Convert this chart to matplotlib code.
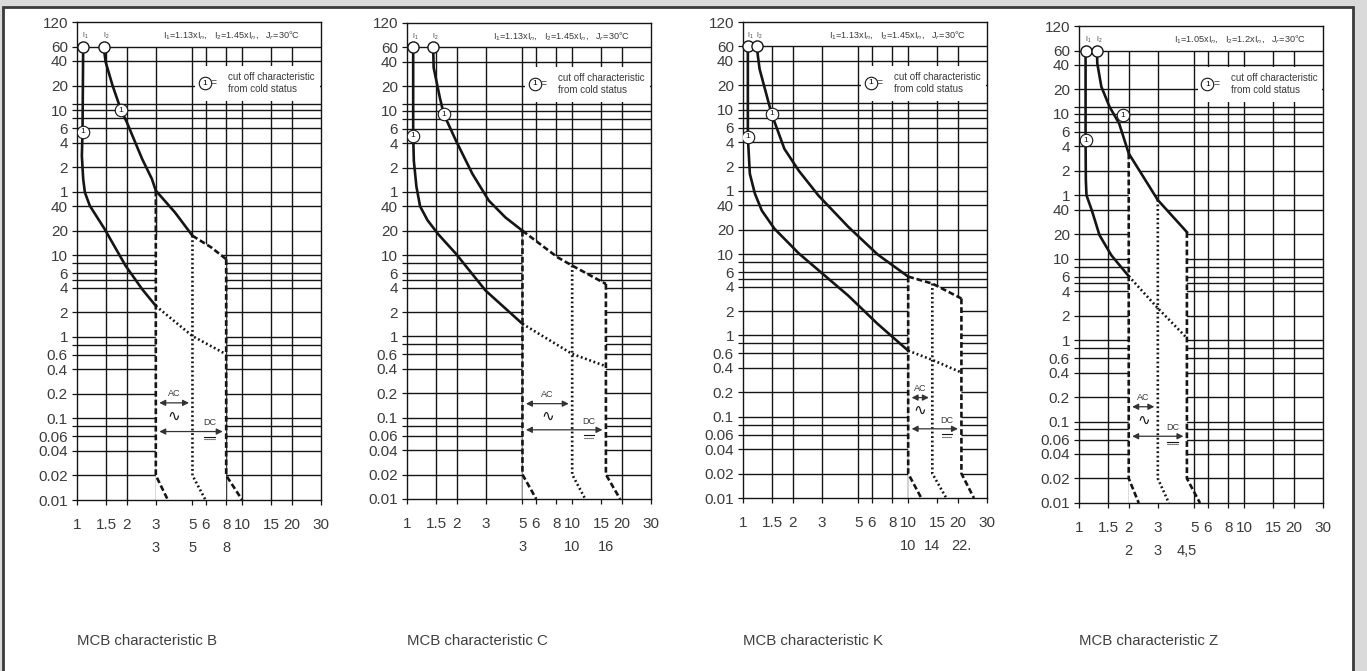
import matplotlib
matplotlib.use('Agg')
import matplotlib.pyplot as plt
from matplotlib.patches import Rectangle

plt.rcParams['font.family'] = ['Liberation Sans', 'DejaVu Sans']
plt.rcParams['mathtext.fontset'] = 'custom'
plt.rcParams['mathtext.rm'] = 'Liberation Sans'

# time axis in seconds (upper part labelled in minutes)
y_ticks = [7200, 3600, 2400, 1200, 720, 600, 480, 360, 240, 120, 60, 40, 20, 10, 8, 6, 5, 4, 2, 1,
           0.8, 0.6, 0.4, 0.2, 0.1, 0.08, 0.06, 0.04, 0.02, 0.01]
y_labels = ['120', '60', '40', '20', '', '10', '', '6', '4', '2', '1', '40', '20', '10', '', '6', '', '4',
            '2', '1', '', '0.6', '0.4', '0.2', '0.1', '', '0.06', '0.04', '0.02', '0.01']
grid_t = y_ticks[1:-1]
x_ticks = [1, 1.5, 2, 3, 5, 6, 8, 10, 15, 20, 30]
x_labels = ['1', '1.5', '2', '3', '5', '6', '8', '10', '15', '20', '30']
grid_x = [1.5, 2, 3, 5, 6, 8, 10, 15, 20]

# MCB characteristic B
B_low_x = [1.09, 1.08, 1.07, 1.09, 1.116, 1.195, 1.47, 1.68, 1.97, 2.48, 3.0]
B_low_t = [3600, 325, 165, 86, 58.8, 40.4, 20.9, 13.0, 7.4, 3.83, 2.39]
B_low_dot_x = [3.0, 5.0, 8.0]
B_low_dot_t = [2.39, 1.02, 0.61]
B_up_x = [1.45, 1.49, 1.64, 1.85, 2.0, 2.48, 2.84, 3.0, 3.92, 5.0]
B_up_t = [3600, 2337, 1206, 594, 428, 151, 86, 61.8, 33.4, 17.3]
B_up_dash_x = [5.0, 6.48, 8.0]
B_up_dash_t = [17.3, 12.5, 8.93]
B_trip_x = [3, 5, 8]
B_trip_top = [61.8, 17.3, 8.93]
B_trip_foot = [3.55, 6.0, 10.0]
B_trip_text = ['3', '5', '8']
B_cold_x = [1.08, 1.85]
B_cold_t = [325, 594]
B_ac_dc_t = [0.155, 0.069]

# MCB characteristic C
C_low_x = [1.09, 1.09, 1.1, 1.14, 1.2, 1.33, 1.55, 1.98, 2.99, 5.0]
C_low_t = [3600, 295, 145, 70, 40, 27, 18, 10.4, 3.67, 1.43]
C_low_dot_x = [5, 10, 16]
C_low_dot_t = [1.43, 0.61, 0.43]
C_up_x = [1.44, 1.45, 1.58, 1.67, 1.98, 2.49, 3.13, 3.94, 5.0]
C_up_t = [3600, 2033, 871, 544, 256, 100, 46.9, 29.2, 20]
C_up_dash_x = [5, 8.17, 10, 16]
C_up_dash_t = [20, 9.4, 7.45, 4.43]
C_trip_x = [5, 10, 16]
C_trip_top = [20, 7.45, 4.43]
C_trip_foot = [6.06, 12.0, 19.5]
C_trip_text = ['3', '10', '16']
C_cold_x = [1.09, 1.67]
C_cold_t = [295, 544]
C_ac_dc_t = [0.149, 0.071]

# MCB characteristic K
K_low_x = [1.07, 1.07, 1.1, 1.18, 1.30, 1.55, 2.18, 4.33, 6.5, 10]
K_low_t = [3600, 278, 97.8, 55.7, 34.4, 20.6, 10.2, 3.1, 1.4, 0.65]
K_low_dot_x = [10, 14, 21]
K_low_dot_t = [0.65, 0.5, 0.35]
K_up_x = [1.21, 1.26, 1.49, 1.78, 2.18, 2.87, 4.33, 6.54, 10]
K_up_t = [3600, 1900, 533, 198, 106, 52.4, 21.8, 9.9, 5.3]
K_up_dash_x = [10, 14, 21]
K_up_dash_t = [5.3, 4.35, 2.85]
K_trip_x = [10, 14, 21]
K_trip_top = [5.3, 4.35, 2.85]
K_trip_foot = [12, 17, 25]
K_trip_text = ['10', '14', '22.']
K_cold_x = [1.07, 1.49]
K_cold_t = [278, 533]
K_ac_dc_t = [0.172, 0.071]

# MCB characteristic Z
Z_low_x = [1.096, 1.096, 1.1, 1.11, 1.195, 1.33, 1.57, 2.0]
Z_low_t = [3600, 286, 92, 60, 39.4, 19.5, 11, 6.1]
Z_low_dot_x = [2, 3, 4.5]
Z_low_dot_t = [6.1, 2.47, 1.06]
Z_up_x = [1.285, 1.29, 1.365, 1.53, 1.75, 2.0, 3.0, 4.5]
Z_up_t = [3600, 2510, 1297, 735, 457, 196, 52.5, 21.2]
Z_up_dash_x = []
Z_up_dash_t = []
Z_trip_x = [2, 3, 4.5]
Z_trip_top = [196, 52.5, 21.2]
Z_trip_foot = [2.3, 3.5, 5.4]
Z_trip_text = ['2', '3', '4,5']
Z_cold_x = [1.096, 1.85]
Z_cold_t = [286, 580]
Z_ac_dc_t = [0.152, 0.066]

notes = ['I$_1$=1.13xI$_n$,   I$_2$=1.45xI$_n$,   J$_r$=30°C',
         'I$_1$=1.13xI$_n$,   I$_2$=1.45xI$_n$,   J$_r$=30°C',
         'I$_1$=1.13xI$_n$,   I$_2$=1.45xI$_n$,   J$_r$=30°C',
         'I$_1$=1.05xI$_n$,   I$_2$=1.2xI$_n$,   J$_r$=30°C']
titles = ['MCB characteristic B', 'MCB characteristic C', 'MCB characteristic K', 'MCB characteristic Z']

panels = [
    (B_low_x, B_low_t, B_low_dot_x, B_low_dot_t, B_up_x, B_up_t, B_up_dash_x, B_up_dash_t,
     B_trip_x, B_trip_top, B_trip_foot, B_trip_text, B_cold_x, B_cold_t, B_ac_dc_t),
    (C_low_x, C_low_t, C_low_dot_x, C_low_dot_t, C_up_x, C_up_t, C_up_dash_x, C_up_dash_t,
     C_trip_x, C_trip_top, C_trip_foot, C_trip_text, C_cold_x, C_cold_t, C_ac_dc_t),
    (K_low_x, K_low_t, K_low_dot_x, K_low_dot_t, K_up_x, K_up_t, K_up_dash_x, K_up_dash_t,
     K_trip_x, K_trip_top, K_trip_foot, K_trip_text, K_cold_x, K_cold_t, K_ac_dc_t),
    (Z_low_x, Z_low_t, Z_low_dot_x, Z_low_dot_t, Z_up_x, Z_up_t, Z_up_dash_x, Z_up_dash_t,
     Z_trip_x, Z_trip_top, Z_trip_foot, Z_trip_text, Z_cold_x, Z_cold_t, Z_ac_dc_t),
]

# axes placement in pixels: left, top, bottom
W, H = 1367, 671
boxes = [(77, 22, 500), (407, 23, 499), (743, 22, 498), (1079, 26, 503)]

fig = plt.figure(figsize=(W / 100, H / 100), dpi=100, facecolor='#dadada')
fig.add_artist(Rectangle((3 / W, -0.05), 1350 / W, 1 - 7 / H + 0.05, transform=fig.transFigure,
                         facecolor='white', edgecolor='#3a3a3a', lw=2, zorder=0))

ink = '#151515'
txt = '#3a3a3a'
dashed = (0, (2.2, 1.1))
dotted = (0, (0.7, 1.0))

for k, (p, (left, top, bottom)) in enumerate(zip(panels, boxes)):
    (low_x, low_t, ldx, ldt, up_x, up_t, udx, udt,
     trip_x, trip_top, trip_foot, trip_text, cold_x, cold_t, acdc) = p
    ax = fig.add_axes([left / W, 1 - bottom / H, 244 / W, (bottom - top) / H])
    ax.set_xscale('log')
    ax.set_yscale('log')
    ax.set_xlim(1, 30)
    ax.set_ylim(0.01, 7200)
    ax.set_facecolor('none')

    ax.hlines(grid_t, 1, 30, colors=ink, lw=1.0, zorder=1)
    ax.vlines(grid_x, 0.01, 3600, colors=ink, lw=1.0, zorder=1)

    # instantaneous zone left blank
    cap = udt[0] if udt else trip_top[0]
    zx = [trip_x[0], trip_x[0]]
    zt = [0.01, cap]
    for x, t in zip(list(up_x) + list(udx), list(up_t) + list(udt)):
        if trip_x[0] < x <= trip_x[-1] and t <= cap:
            zx.append(x)
            zt.append(t)
    zx += [trip_x[-1], trip_x[-1]]
    zt += [zt[-1], 0.01]
    ax.fill(zx, zt, color='white', lw=0, zorder=2)

    ax.plot(low_x, low_t, color=ink, lw=1.9, zorder=4, solid_joinstyle='round')
    ax.plot(ldx, ldt, color=ink, lw=1.9, ls=dotted, zorder=4)
    ax.plot(up_x, up_t, color=ink, lw=1.9, zorder=4, solid_joinstyle='round')
    if udx:
        ax.plot(udx, udt, color=ink, lw=1.9, ls=dashed, zorder=4)
    for i, (x, t0, xf) in enumerate(zip(trip_x, trip_top, trip_foot)):
        ax.plot([x, x, xf], [t0, 0.02, 0.01], color=ink, lw=1.9,
                ls=dotted if i == 1 else dashed, zorder=4)
        ax.text(x, -0.1, trip_text[i], transform=ax.get_xaxis_transform(),
                ha='center', va='center', fontsize=10.5, color=txt)

    # I1 / I2 start points
    for x, lab in zip([low_x[0], up_x[0]], ['I$_1$', 'I$_2$']):
        ax.plot(x, 3600, 'o', ms=8, mfc='white', mec=ink, mew=1.0, zorder=6, clip_on=False)
        ax.text(x * 1.035, 4900, lab, fontsize=5, color=txt, ha='center', va='center')

    # cold status markers
    for x, t in zip(cold_x, cold_t):
        ax.plot(x, t, 'o', ms=9, mfc='white', mec=ink, mew=0.8, zorder=6)
        ax.text(x, t, '1', fontsize=6, ha='center', va='center', color=ink, zorder=7)

    ax.text(0.915 if k < 3 else 0.93, 0.972, notes[k], transform=ax.transAxes, ha='right', va='center',
            fontsize=6.6, color=txt)
    bx = 0.484 if k < 3 else 0.486
    by = 0.872 if k < 3 else 0.878
    ax.add_patch(Rectangle((bx, by - 0.037), 0.995 - bx, 0.073, transform=ax.transAxes,
                           facecolor='white', edgecolor='none', zorder=3))
    ax.plot(bx + 0.04, by, 'o', transform=ax.transAxes, ms=9, mfc='white', mec=ink, mew=0.8, zorder=6)
    ax.text(bx + 0.04, by, '1', transform=ax.transAxes, fontsize=6, ha='center', va='center', zorder=7)
    ax.text(bx + 0.077, by, '=', transform=ax.transAxes, fontsize=7.5, ha='center', va='center', color=txt, zorder=7)
    ax.text(bx + 0.135, by, 'cut off characteristic\nfrom cold status', transform=ax.transAxes,
            fontsize=7, ha='left', va='center', color=txt, linespacing=1.2, zorder=7)

    # AC / DC ranges
    ac_t, dc_t = acdc
    x1, x2, x3 = trip_x
    arrow = dict(arrowstyle='<|-|>', color='#333333', lw=0.9, shrinkA=2.5, shrinkB=2.5, mutation_scale=9)
    ax.annotate('', xy=(x2, ac_t), xytext=(x1, ac_t), arrowprops=arrow, zorder=5)
    ax.annotate('', xy=(x3, dc_t), xytext=(x1, dc_t), arrowprops=arrow, zorder=5)
    xm = (x1 * x2) ** 0.5
    xd = (x2 * x3) ** 0.5
    ax.text(xm, ac_t * 1.3, 'AC', fontsize=6.5, ha='center', va='center', color=txt, zorder=5)
    ax.text(xm, ac_t * 0.69, '∿', fontsize=11, ha='center', va='center', color=ink, zorder=5,
            family=['DejaVu Sans'])
    ax.text(xd, dc_t * 1.28, 'DC', fontsize=6.5, ha='center', va='center', color=txt, zorder=5)
    # direct current sign: full line over a broken line
    ax.plot([xd / 1.075, xd * 1.075], [dc_t * 0.86, dc_t * 0.86], color=ink, lw=0.8, zorder=5)
    ax.plot([xd / 1.075, xd * 1.075], [dc_t * 0.80, dc_t * 0.80], color=ink, lw=0.8,
            ls=(0, (1, 0.8)), zorder=5)

    ax.set_yticks(y_ticks)
    ax.set_yticklabels(y_labels)
    ax.set_xticks(x_ticks)
    ax.set_xticklabels(x_labels)
    ax.minorticks_off()
    ax.tick_params(axis='both', direction='out', length=3.5, width=0.9, color=ink,
                   labelcolor='#3c3c3c', labelsize=11)
    ax.tick_params(axis='x', pad=9.5)
    ax.tick_params(axis='y', pad=3)
    for s in ax.spines.values():
        s.set_color(ink)
        s.set_linewidth(1.0)

    fig.text(left / W, 1 - 641 / H, titles[k], fontsize=10.8, color='#404040', ha='left', va='center')

fig.savefig('out.png', dpi=100, facecolor=fig.get_facecolor())
